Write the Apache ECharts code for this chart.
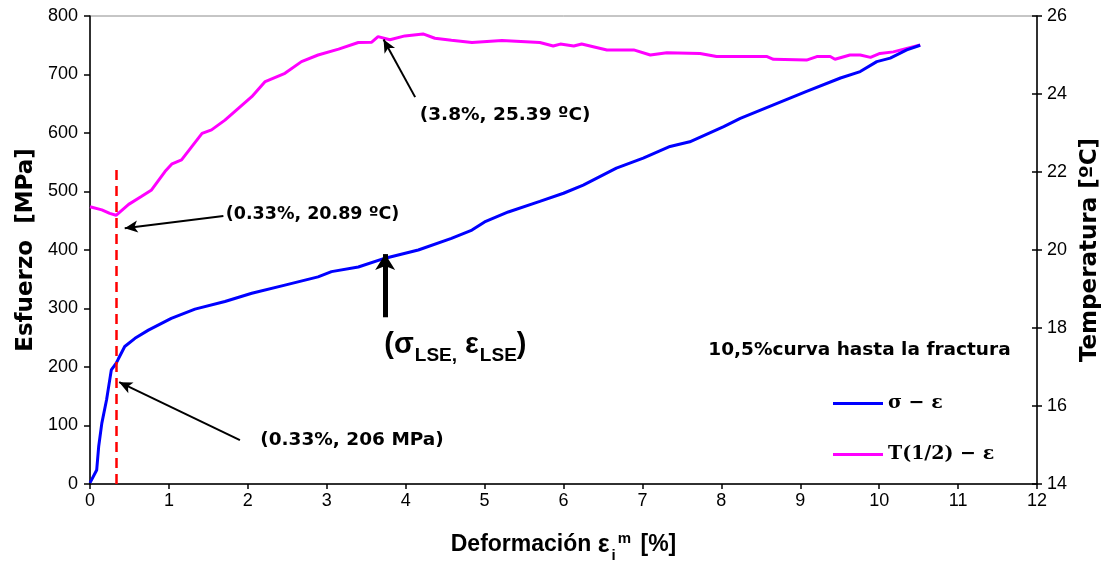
<!DOCTYPE html>
<html>
<head>
<meta charset="utf-8">
<script src="https://cdn.jsdelivr.net/npm/echarts@6/dist/echarts.min.js"></script>
<style>
  html, body { margin: 0; padding: 0; background: #fff; }
  #chart { width: 1109px; height: 564px; }
</style>
</head>
<body>
<div id="chart"></div>
<script>
// Strain (%) and stress (MPa) of the tensile test
const strainS = [0, 0.085, 0.11, 0.15, 0.21, 0.25, 0.27, 0.33, 0.36, 0.44, 0.57, 0.74, 1.03, 1.33, 1.71, 2.05, 2.47, 2.89, 3.06, 3.40, 3.74, 4.16, 4.58, 4.84, 5.0, 5.3, 5.70, 6.0, 6.25, 6.67, 7.01, 7.35, 7.60, 8.03, 8.24, 8.66, 9.08, 9.51, 9.76, 9.97, 10.14, 10.35, 10.52];
const stress  = [2, 24, 64, 104, 144, 178, 195, 206, 214, 235, 249, 263, 283, 299, 312, 326, 340, 354, 363, 371, 386, 400, 420, 434, 448, 465, 483, 497, 511, 540, 557, 577, 585, 611, 625, 648, 671, 694, 705, 722, 728, 742, 750];

// Strain (%) and surface temperature at mid-length (ºC)
const strainT = [0, 0.15, 0.25, 0.33, 0.49, 0.65, 0.78, 0.95, 1.04, 1.16, 1.29, 1.42, 1.54, 1.71, 1.88, 2.05, 2.22, 2.47, 2.68, 2.89, 3.15, 3.40, 3.57, 3.65, 3.8, 3.99, 4.22, 4.37, 4.58, 4.84, 5.22, 5.70, 5.87, 5.96, 6.13, 6.23, 6.55, 6.89, 7.10, 7.31, 7.73, 7.94, 8.58, 8.66, 9.08, 9.21, 9.38, 9.44, 9.63, 9.76, 9.89, 10.01, 10.18, 10.35, 10.52];
const temp    = [21.11, 21.03, 20.94, 20.89, 21.17, 21.37, 21.54, 22.01, 22.21, 22.31, 22.65, 22.99, 23.08, 23.33, 23.63, 23.93, 24.32, 24.53, 24.83, 25.0, 25.15, 25.32, 25.33, 25.47, 25.39, 25.49, 25.54, 25.43, 25.38, 25.32, 25.37, 25.32, 25.23, 25.28, 25.23, 25.28, 25.13, 25.13, 25.0, 25.06, 25.04, 24.96, 24.96, 24.89, 24.87, 24.96, 24.96, 24.89, 25.0, 25.0, 24.94, 25.04, 25.08, 25.17, 25.26];

const seriesNames = ['σ − ε', 'T(1/2) − ε'];
const xTicks = { min: 0, max: 12, interval: 1 };
const stressTicks = { min: 0, max: 800, interval: 100 };
const tempTicks = { min: 14, max: 26, interval: 2 };

// Highlighted points
const yieldPt = [0.33, 206];
const tMinPt = [0.33, 20.89];
const tMaxPt = [3.8, 25.39];
const lsePt = [3.74, 386];

const sans = 'Liberation Sans, Arial, sans-serif';
const sansWide = 'DejaVu Sans, sans-serif';

const chart = echarts.init(document.getElementById('chart'));

function textPoint(coord, text, style) {
  return {
    coord: coord,
    symbol: 'circle',
    symbolSize: 1,
    itemStyle: { color: 'rgba(0,0,0,0)' },
    label: Object.assign({
      show: true, position: 'inside', formatter: text,
      color: '#000', fontFamily: sansWide, fontWeight: 'bold', fontSize: 18.5
    }, style || {})
  };
}

function arrow(from, to, width, size) {
  return [
    { coord: from, symbol: 'none' },
    { coord: to, symbol: 'arrow', symbolSize: size, lineStyle: { color: '#000', width: width, type: 'solid' } }
  ];
}

const option = {
  animation: false,
  grid: {
    left: 90, right: 72, top: 16, bottom: 80,
    outerBoundsMode: 'none', containLabel: false,
    show: true, borderColor: '#8c8c8c', borderWidth: 1, backgroundColor: 'transparent'
  },
  legend: {
    data: seriesNames,
    orient: 'vertical',
    left: 828, top: 389,
    itemWidth: 50, itemHeight: 3, itemGap: 32,
    icon: 'rect',
    textStyle: { fontFamily: 'DejaVu Serif, serif', fontWeight: 'bold', fontSize: 19, color: '#000' }
  },
  xAxis: {
    type: 'value', min: xTicks.min, max: xTicks.max, interval: xTicks.interval,
    axisLine: { show: true, lineStyle: { color: '#000', width: 1.5 } },
    axisTick: { show: true, length: 5, lineStyle: { color: '#000', width: 1.5 } },
    axisLabel: { fontFamily: sans, fontSize: 18, color: '#000', margin: 8 },
    splitLine: { show: false },
    name: '{t|Deformación }{e|ε}{sub|i}{sup|m}{t| [%]}',
    nameLocation: 'middle', nameGap: 46,
    nameTextStyle: {
      rich: {
        t: { fontFamily: sans, fontWeight: 'bold', fontSize: 23, color: '#000', lineHeight: 30 },
        e: { fontFamily: sans, fontWeight: 'bold', fontSize: 25, color: '#000', lineHeight: 30 },
        sub: { fontFamily: sans, fontWeight: 'bold', fontSize: 15, color: '#000', verticalAlign: 'bottom', lineHeight: 30, padding: [0, 1, -3, 2] },
        sup: { fontFamily: sans, fontWeight: 'bold', fontSize: 15, color: '#000', verticalAlign: 'top', lineHeight: 30, padding: [1, 3, 0, 1] }
      }
    }
  },
  yAxis: [
    {
      type: 'value', position: 'left', min: stressTicks.min, max: stressTicks.max, interval: stressTicks.interval,
      axisLine: { show: true, lineStyle: { color: '#000', width: 1.5 } },
      axisTick: { show: true, length: 6, lineStyle: { color: '#000', width: 1.5 } },
      axisLabel: { fontFamily: sans, fontSize: 18, color: '#000', margin: 12 },
      splitLine: { show: false },
      name: 'Esfuerzo  [MPa]', nameLocation: 'middle', nameRotate: 90, nameGap: 42,
      nameTextStyle: { fontFamily: sansWide, fontWeight: 'bold', fontSize: 23, color: '#000' }
    },
    {
      type: 'value', position: 'right', min: tempTicks.min, max: tempTicks.max, interval: tempTicks.interval,
      axisLine: { show: true, lineStyle: { color: '#000', width: 1.5 } },
      axisTick: { show: true, length: 5, lineStyle: { color: '#000', width: 1.5 } },
      axisLabel: { fontFamily: sans, fontSize: 18, color: '#000', margin: 10 },
      splitLine: { show: false },
      name: 'Temperatura [ºC]', nameLocation: 'middle', nameRotate: 90, nameGap: 42,
      nameTextStyle: { fontFamily: sansWide, fontWeight: 'bold', fontSize: 23, color: '#000' }
    },
    {
      // inner half of the crossing ticks on the temperature axis
      type: 'value', position: 'right', min: tempTicks.min, max: tempTicks.max, interval: tempTicks.interval,
      axisLine: { show: false },
      axisTick: { show: true, inside: true, length: 5, lineStyle: { color: '#000', width: 1.5 } },
      axisLabel: { show: false },
      splitLine: { show: false }
    }
  ],
  series: [
    {
      name: seriesNames[0], type: 'line', yAxisIndex: 0,
      data: strainS.map((x, i) => [x, stress[i]]),
      showSymbol: false, symbol: 'none',
      lineStyle: { color: '#0000FF', width: 3 },
      itemStyle: { color: '#0000FF' },
      z: 3,
      markLine: {
        silent: true, animation: false,
        label: { show: false },
        symbol: ['none', 'none'],
        data: [
          [
            { coord: [yieldPt[0], 0], symbol: 'none' },
            { coord: [yieldPt[0], 537], symbol: 'none', lineStyle: { color: '#FF0000', width: 2.5, type: [10, 6] } }
          ],
          arrow([1.90, 75], [0.37, 174], 2, [9, 13]),
          arrow([lsePt[0], 285], [lsePt[0], 393], 5, [15, 16])
        ]
      },
      markPoint: {
        silent: true, animation: false,
        data: [
          textPoint([3.32, 75], '(0.33%, 206 MPa)'),
          textPoint([4.63, 237], '{b|(σ}{s|LSE,}{b| ε}{s|LSE}{b|)}', {
            rich: {
              b: { fontFamily: sans, fontWeight: 'bold', fontSize: 29, color: '#000', lineHeight: 34 },
              s: { fontFamily: sans, fontWeight: 'bold', fontSize: 19, color: '#000', verticalAlign: 'bottom', lineHeight: 34, padding: [0, 0, -3, 1] }
            }
          }),
          textPoint([9.75, 229], '10,5%curva hasta la fractura')
        ]
      }
    },
    {
      name: seriesNames[1], type: 'line', yAxisIndex: 1,
      data: strainT.map((x, i) => [x, temp[i]]),
      showSymbol: false, symbol: 'none',
      lineStyle: { color: '#FF00FF', width: 3 },
      itemStyle: { color: '#FF00FF' },
      z: 2,
      markLine: {
        silent: true, animation: false,
        label: { show: false },
        symbol: ['none', 'none'],
        data: [
          arrow([1.69, 20.87], [0.44, 20.56], 2, [9, 13]),
          arrow([4.12, 23.92], [3.72, 25.40], 2, [9, 13])
        ]
      },
      markPoint: {
        silent: true, animation: false,
        data: [
          textPoint([2.82, 20.9], '(0.33%, 20.89 ºC)', { fontSize: 17.5 }),
          textPoint([5.26, 23.46], '(3.8%, 25.39 ºC)')
        ]
      }
    }
  ]
};

chart.setOption(option);
</script>
</body>
</html>
